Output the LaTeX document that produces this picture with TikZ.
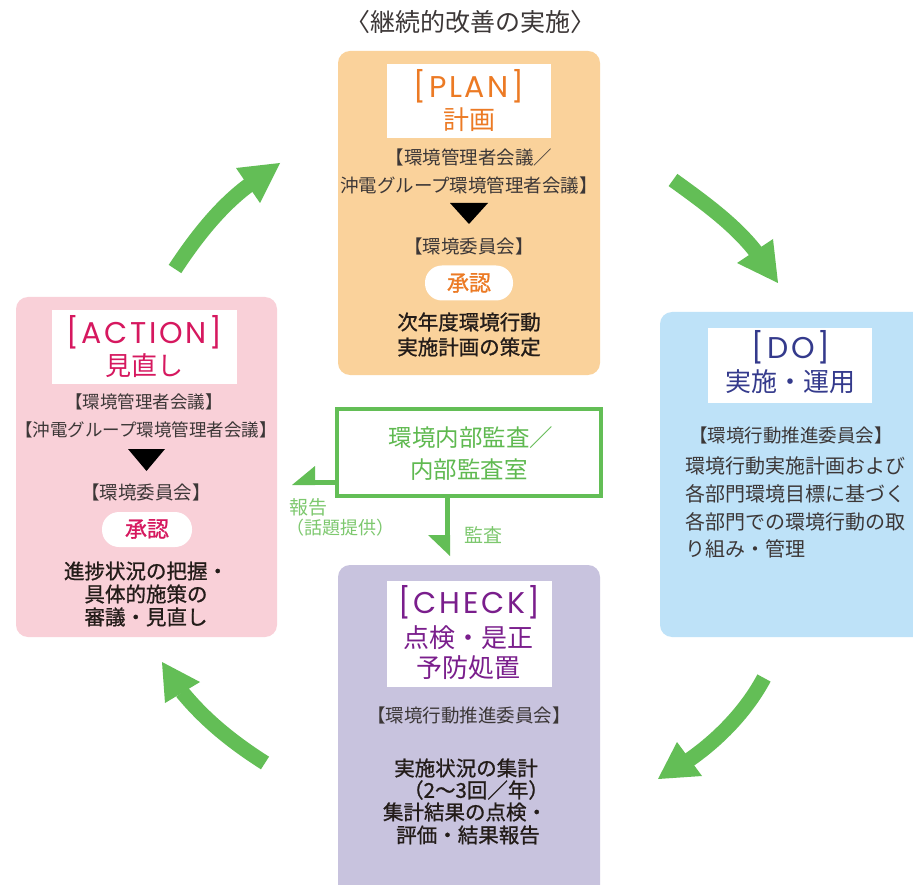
\documentclass[tikz,border=0pt]{standalone}
\usepackage{fontspec}
\setmainfont{Noto Sans CJK JP}
\newfontfamily\jp{Noto Sans CJK JP}
\newfontfamily\jpb[FakeBold=1]{Noto Sans CJK JP}
\newfontfamily\lat[LetterSpace=9]{Poppins}
\newcommand\myfs[1]{\fontsize{#1}{#1}\selectfont}
\definecolor{planfill}{RGB}{250,210,155}
\definecolor{actfill}{RGB}{249,208,216}
\definecolor{dofill}{RGB}{190,226,248}
\definecolor{chkfill}{RGB}{200,195,222}
\definecolor{planc}{RGB}{236,122,36}
\definecolor{actc}{RGB}{214,24,95}
\definecolor{doc}{RGB}{52,58,140}
\definecolor{chkc}{RGB}{122,30,140}
\definecolor{grn}{RGB}{99,190,86}
\definecolor{grnt}{RGB}{95,185,80}
\definecolor{grnl}{RGB}{125,200,110}
\definecolor{dark}{RGB}{35,28,25}
\definecolor{grey}{RGB}{60,55,55}
\tikzset{
  phase/.style={rounded corners=12pt, inner sep=0, draw=none},
  labbox/.style={fill=white, inner sep=0},
  pill/.style={fill=white, rounded corners=17pt, inner sep=0},
  t/.style={inner sep=0, anchor=center},
  latl/.style={t, font=\lat\myfs{30}},
  jpl/.style={t, font=\jp\myfs{26}},
  comm/.style={t, font=\jp\myfs{18.5}, text=grey},
  body/.style={t, font=\jpb\myfs{20.5}, text=dark},
  shaft/.style={draw=grn, line width=15pt},
  head/.style={fill=grn},
  thin/.style={draw=grn, line width=5pt},
}
\begin{document}
\begin{tikzpicture}[x=1pt,y=-1pt]
\clip (0,0) rectangle (913,885);
\fill[white] (0,0) rectangle (913,885);

% title
\node[t, font=\jp\myfs{25}, text=grey] (title) at (470,22) {〈継続的改善の実施〉};

% phase boxes
\node[phase, fill=planfill, minimum width=262, minimum height=324] (plan) at (469,213) {};
\node[phase, fill=actfill, minimum width=261, minimum height=340] (act) at (146.5,467) {};
\node[phase, fill=dofill, minimum width=270, minimum height=325] (do) at (795,474.5) {};
\node[phase, fill=chkfill, minimum width=262, minimum height=340] (chk) at (469,735) {};

% white label boxes
\node[labbox, minimum width=164, minimum height=74] (planlab) at (469,101) {};
\node[labbox, minimum width=185, minimum height=74] (actlab) at (144.5,347) {};
\node[labbox, minimum width=164, minimum height=75] (dolab) at (790,365.5) {};
\node[labbox, minimum width=165, minimum height=106] (chklab) at (469.5,634) {};

% PLAN
\node[latl, text=planc] (planA) at (469,86) {[PLAN]};
\node[jpl, text=planc] (planB) at (469,120) {計画};
\node[comm] (planC) at (469,157) {【環境管理者会議／};
\node[comm] (planD) at (469,185) {沖電グループ環境管理者会議】};
\fill[black] (450,203) -- (488,203) -- (469,224) -- cycle;
\node[comm] (planE) at (469,246) {【環境委員会】};
\node[pill, minimum width=88, minimum height=35] (planP) at (469,283) {};
\node[t, font=\jpb\myfs{22}, text=planc] (planPt) at (469,283) {承認};
\node[body] (planF) at (469,322) {次年度環境行動};
\node[body] (planG) at (469,347) {実施計画の策定};

% ACTION
\node[latl, text=actc] (actA) at (144.5,332) {[ACTION]};
\node[jpl, text=actc] (actB) at (144.5,366) {見直し};
\node[comm, font=\jp\myfs{17.5}] (actC) at (144,402) {【環境管理者会議】};
\node[comm, font=\jp\myfs{17.5}] (actD) at (146,430) {【沖電グループ環境管理者会議】};
\fill[black] (128,449) -- (165,449) -- (146.5,471) -- cycle;
\node[comm] (actE) at (146,492) {【環境委員会】};
\node[pill, minimum width=90, minimum height=35] (actP) at (147,529.5) {};
\node[t, font=\jpb\myfs{22}, text=actc] (actPt) at (147,529) {承認};
\node[body] (actF) at (146,571) {進捗状況の把握・};
\node[body] (actG) at (146,594) {具体的施策の};
\node[body] (actH) at (146,617) {審議・見直し};

% DO
\node[latl, text=doc] (doA) at (791,347) {[DO]};
\node[jpl, text=doc] (doB) at (790,382) {実施・運用};
\node[comm] (doC) at (791,435) {【環境行動推進委員会】};
\node[t, anchor=west, font=\jp\myfs{20}, text=grey] (doD) at (685,466) {環境行動実施計画および};
\node[t, anchor=west, font=\jp\myfs{20}, text=grey] (doE) at (685,494) {各部門環境目標に基づく};
\node[t, anchor=west, font=\jp\myfs{20}, text=grey] (doF) at (685,522) {各部門での環境行動の取};
\node[t, anchor=west, font=\jp\myfs{20}, text=grey] (doG) at (685,549) {り組み・管理};

% CHECK
\node[latl, text=chkc] (chkA) at (469.5,602) {[CHECK]};
\node[jpl, text=chkc] (chkB) at (468,638) {点検・是正};
\node[jpl, text=chkc] (chkC) at (468,668) {予防処置};
\node[comm] (chkD) at (469,715) {【環境行動推進委員会】};
\node[body] (chkE) at (466,768) {実施状況の集計};
\node[body] (chkF) at (476,790) {（2～3回／年）};
\node[body] (chkG) at (465,812) {集計結果の点検・};
\node[body] (chkH) at (468,835) {評価・結果報告};

% audit box
\node[draw=grn, line width=4.5pt, minimum width=264, minimum height=87, inner sep=0] (audit) at (469,452.5) {};
\node[t, font=\jp\myfs{23.5}, text=grnt] (audA) at (471,438) {環境内部監査／};
\node[t, font=\jp\myfs{23.5}, text=grnt] (audB) at (469,470) {内部監査室};

% audit connectors
\coordinate (repS) at (audit.west |- 0,482.5);
\coordinate (repE) at (313,482.5);
\draw[thin] (repS) -- (repE);
\fill[grn] (292,485) -- (315,466) -- (315,485) -- cycle;
\coordinate (audS) at (447.5,498);
\coordinate (audE) at (447.5,537);
\draw[thin] (audS) -- (audE);
\fill[grn] (428,535) -- (450,535) -- (450,556) -- cycle;
\node[t, anchor=west, font=\jp\myfs{19}, text=grnl] (rep1) at (289,507) {報告};
\node[t, font=\jp\myfs{18}, text=grnl] (rep2) at (340,528) {（話題提供）};
\node[t, font=\jp\myfs{19}, text=grnl] (aud) at (483,535) {監査};

% big cycle arrows
\coordinate (a1s) at (175,269); \coordinate (a1e) at (249,185);
\draw[shaft] (a1s) .. controls (198,234) and (222,205) .. (a1e);
\fill[head] (236,168) -- (280,163) -- (260,203) -- cycle;

\coordinate (a2s) at (673,180); \coordinate (a2e) at (756,252);
\draw[shaft] (a2s) .. controls (705,203) and (735,225) .. (a2e);
\fill[head] (737,263) -- (778,283) -- (773,239) -- cycle;

\coordinate (a3s) at (764,678); \coordinate (a3e) at (689,760);
\draw[shaft] (a3s) .. controls (748,708) and (722,737) .. (a3e);
\fill[head] (677,742) -- (658,779) -- (702,776) -- cycle;

\coordinate (a4s) at (265,763); \coordinate (a4e) at (182,692);
\draw[shaft] (a4s) .. controls (232,742) and (205,720) .. (a4e);
\fill[head] (165,703) -- (162,662) -- (200,682) -- cycle;
\end{tikzpicture}
\end{document}
